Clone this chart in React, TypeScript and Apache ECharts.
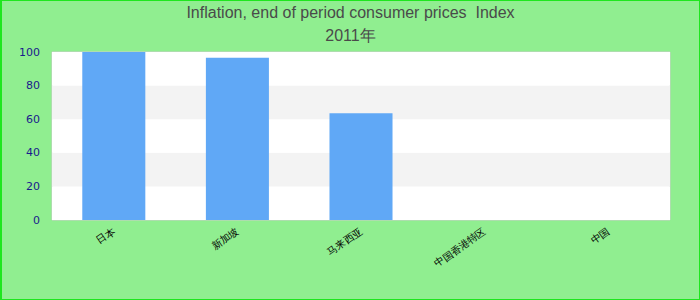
import React, { useEffect, useRef } from "react";
import * as echarts from "echarts";

const titleLine1 = "Inflation, end of period consumer prices  Index";
const titleLine2 = "2011年";
const categories = ["日本", "新加坡", "马来西亚", "中国香港特区", "中国"];
const values: (number | null)[] = [100, 96.6, 63.5, null, null];
const yTicks = [0, 20, 40, 60, 80, 100];

const titleStyle = {
  fontFamily: "Liberation Sans, Arial, sans-serif",
  fontSize: 16,
  fontWeight: "normal",
  color: "#4a4a4a",
};

export default function App() {
  const ref = useRef<HTMLDivElement>(null);
  useEffect(() => {
    document.body.style.margin = "0";
    const chart = echarts.init(ref.current!, null, { renderer: "svg" });
    chart.setOption({
      animation: false,
      backgroundColor: "#90ee90",
      title: [
        { text: titleLine1, left: "center", top: -2, textStyle: titleStyle },
        { text: titleLine2, left: "center", top: 21, textStyle: titleStyle },
      ],
      grid: {
        left: 50,
        right: 29,
        top: 51,
        bottom: 79,
        show: true,
        borderColor: "#cccccc",
        borderWidth: 1,
        backgroundColor: "#ffffff",
      },
      xAxis: {
        type: "category",
        data: categories,
        axisLine: { show: false },
        axisTick: { show: false },
        axisLabel: {
          rotate: 35,
          interval: 0,
          fontSize: 10,
          color: "#000000",
          margin: 10,
        },
      },
      yAxis: {
        type: "value",
        min: yTicks[0],
        max: yTicks[yTicks.length - 1],
        interval: 20,
        axisLine: { show: false },
        axisTick: { show: false },
        splitLine: { show: false },
        splitArea: {
          show: true,
          areaStyle: { color: ["#ffffff", "#f3f3f3"] },
        },
        axisLabel: {
          fontSize: 11,
          color: "#1a1a8c",
          fontFamily: "DejaVu Sans, sans-serif",
          margin: 12,
        },
      },
      series: [
        {
          type: "bar",
          data: values,
          barWidth: "51%",
          itemStyle: { color: "#60a8f6" },
        },
      ],
    });
    return () => chart.dispose();
  }, []);
  return (
    <div
      style={{
        position: "fixed",
        left: 0,
        top: 0,
        width: 700,
        height: 300,
        boxSizing: "border-box",
        border: "1px solid #1ee61e",
        borderLeftWidth: 2,
        background: "#90ee90",
      }}
    >
      <div ref={ref} style={{ width: 697, height: 298 }} />
    </div>
  );
}
